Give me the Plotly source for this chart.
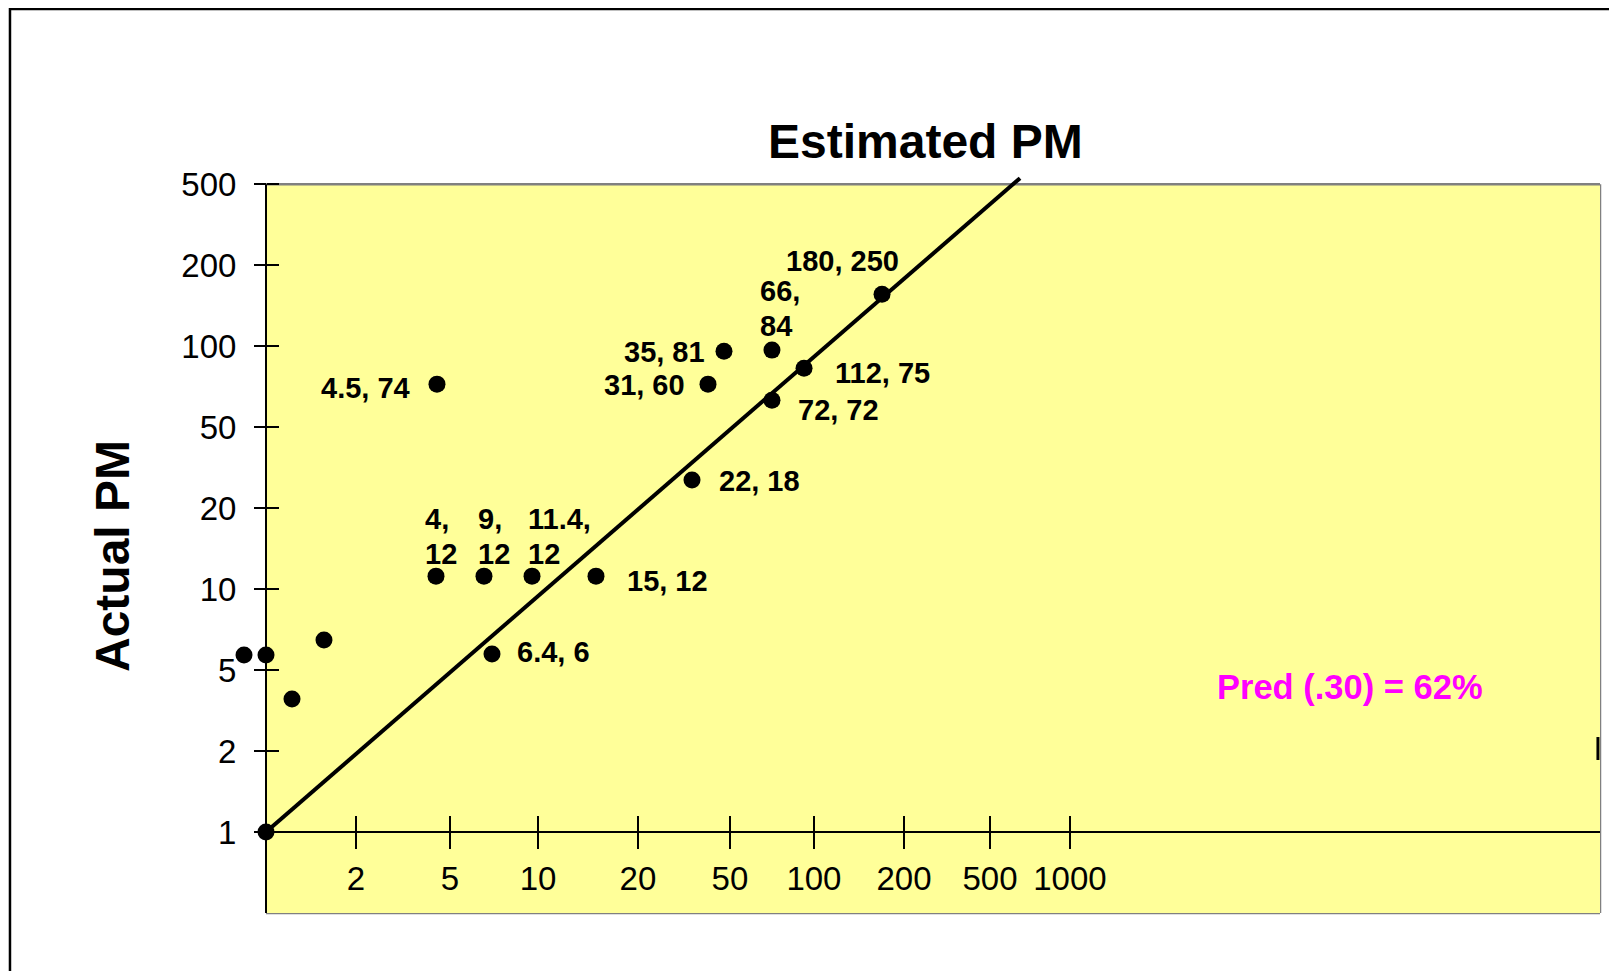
import plotly.graph_objects as go

# ---- data (positions on the chart's stepped 1-2-5 scales: 1 step per tick) ----
y_tick_text = ["1", "2", "5", "10", "20", "50", "100", "200", "500"]
y_tick_pos = [0, 1, 2, 3, 4, 5, 6, 7, 8]
x_tick_text = ["2", "5", "10", "20", "50", "100", "200", "500", "1000"]
x_tick_pos = [1.007, 2.06, 3.045, 4.164, 5.194, 6.134, 7.142, 8.105, 9.0]

est_pos = [0, -0.246, 0, 0.291, 0.649, 1.903, 2.440, 2.978, 3.694, 2.530,
           1.914, 4.769, 4.948, 5.127, 5.664, 5.664, 6.023, 6.896]
act_pos = [0, 2.185, 2.185, 1.642, 2.370, 3.160, 3.160, 3.160, 3.160, 2.198,
           5.531, 4.346, 5.531, 5.938, 5.951, 5.333, 5.728, 6.642]
point_labels = ["", "", "", "", "", "4,<br>12", "9,<br>12", "11.4,<br>12", "15, 12", "6.4, 6",
                "4.5, 74", "22, 18", "31, 60", "35, 81", "66,<br>84", "72, 72", "112, 75", "180, 250"]

line_est = [0, 8.441]
line_act = [0, 8.074]

# label placement (pixel offsets from each point, anchor)
label_style = [None, None, None, None, None,
               (-13, -40, "left"), (-8, -40, "left"), (-6, -40, "left"), (29, 5, "left"),
               (23, -2, "left"), (-25, 4, "right"), (25, 1, "left"), (-21, 1, "right"),
               (-17, 1, "right"), (-14, -42, "left"), (24, 10, "left"), (29, 5, "left"),
               (-40, -33, "center")]
LINE_GAP = 35

FONT = "Liberation Sans, Arial, sans-serif"
YELLOW = "#FFFF99"
GRAY = "#808080"

PX_PER_X = 89.33
X_RANGE = [-36 / PX_PER_X, 1334 / PX_PER_X]
Y_RANGE = [-1, 8.2]
x_axis_pos = (0 - Y_RANGE[0]) / (Y_RANGE[1] - Y_RANGE[0])
y_axis_pos = (0 - X_RANGE[0]) / (X_RANGE[1] - X_RANGE[0])

fig = go.Figure()

fig.add_trace(go.Scatter(x=line_est, y=line_act, mode="lines",
                         line=dict(color="black", width=4),
                         hoverinfo="skip", showlegend=False))
fig.add_trace(go.Scatter(x=est_pos, y=act_pos, mode="markers",
                         marker=dict(color="black", size=17),
                         showlegend=False, cliponaxis=False))
fig.add_trace(go.Scatter(x=[None], y=[None], xaxis="x2", yaxis="y2",
                         showlegend=False, hoverinfo="skip"))

annotations = []
for xv, yv, lab, st in zip(est_pos, act_pos, point_labels, label_style):
    if not lab:
        continue
    dx, dy, anc = st
    parts = lab.split("<br>")
    n = len(parts)
    for i, part in enumerate(parts):
        off = dy + (i - (n - 1) / 2) * LINE_GAP
        annotations.append(dict(x=xv, y=yv, xref="x", yref="y", text=part, showarrow=False,
                                xanchor=anc, yanchor="middle", align="left",
                                xshift=dx, yshift=-off,
                                font=dict(family=FONT, size=29, color="black", weight="bold")))

annotations.append(dict(x=7.388, y=1.0362, xref="x", yref="paper", text="Estimated PM",
                        showarrow=False, xanchor="center", yanchor="middle",
                        font=dict(family=FONT, size=48, color="black", weight="bold")))
annotations.append(dict(x=-0.0854, y=0.4792, xref="paper", yref="paper", text="Actual PM",
                        showarrow=False, xanchor="center", yanchor="middle", textangle=-90,
                        font=dict(family=FONT, size=48, color="black", weight="bold")))
annotations.append(dict(x=10.62, y=1.79, xref="x", yref="y", text="Pred (.30) = 62%",
                        showarrow=False, xanchor="left", yanchor="middle",
                        font=dict(family=FONT, size=34.5, color="#FF00FF", weight="bold")))

shapes = [
    # yellow plot area
    dict(type="rect", xref="x", yref="y", x0=0, x1=X_RANGE[1], y0=-1, y1=8,
         fillcolor=YELLOW, line=dict(width=0), layer="below"),
    # gray border: top, right, bottom
    dict(type="line", xref="x", yref="y", x0=0, x1=X_RANGE[1], y0=8, y1=8,
         line=dict(color=GRAY, width=2.5), layer="below"),
    dict(type="line", xref="paper", yref="y", x0=1, x1=1, y0=-1, y1=8,
         line=dict(color=GRAY, width=2.5), layer="below"),
    dict(type="line", xref="x", yref="paper", x0=0, x1=X_RANGE[1], y0=0, y1=0,
         line=dict(color=GRAY, width=2.5), layer="below"),
    # y axis line
    dict(type="line", xref="x", yref="y", x0=0, x1=0, y0=-1, y1=8,
         line=dict(color="black", width=2), layer="below"),
    # x axis line
    dict(type="line", xref="x", yref="y", x0=0, x1=X_RANGE[1], y0=0, y1=0,
         line=dict(color="black", width=2), layer="below"),
    # outer frame
    dict(type="rect", xref="paper", yref="paper", x0=-0.1606, x1=1.05, y0=-0.2, y1=1.2134,
         line=dict(color="black", width=2.5), fillcolor="rgba(0,0,0,0)"),
    # small mark on right edge
    dict(type="line", xref="paper", yref="paper", x0=0.9985, x1=0.9985, y0=0.2054, y1=0.2362,
         line=dict(color="black", width=3)),
]

tickfont = dict(family=FONT, size=33, color="black")

fig.update_layout(
    width=1609, height=963,
    margin=dict(l=222, r=17, t=160, b=58),
    paper_bgcolor="white", plot_bgcolor="rgba(0,0,0,0)",
    showlegend=False,
    annotations=annotations,
    shapes=shapes,
    xaxis=dict(range=X_RANGE, anchor="free", position=x_axis_pos,
               tickmode="array", tickvals=x_tick_pos, ticktext=x_tick_text,
               ticks="outside", ticklen=16, tickwidth=2, tickcolor="black",
               showline=False, showgrid=False, zeroline=False, tickfont=tickfont,
               ticklabelstandoff=1, fixedrange=True),
    xaxis2=dict(range=X_RANGE, overlaying="x", anchor="free", position=x_axis_pos,
                tickmode="array", tickvals=x_tick_pos, ticks="inside", ticklen=16,
                tickwidth=2, tickcolor="black", showticklabels=False,
                showline=False, showgrid=False, zeroline=False),
    yaxis=dict(range=Y_RANGE, anchor="free", position=y_axis_pos,
               tickmode="array", tickvals=y_tick_pos, ticktext=y_tick_text,
               ticks="outside", ticklen=12, tickwidth=2, tickcolor="black",
               showline=False, showgrid=False, zeroline=False, tickfont=tickfont,
               ticklabelstandoff=11, fixedrange=True),
    yaxis2=dict(range=Y_RANGE, overlaying="y", anchor="free", position=y_axis_pos, side="left",
                tickmode="array", tickvals=y_tick_pos, ticks="inside", ticklen=12,
                tickwidth=2, tickcolor="black", showticklabels=False,
                showline=False, showgrid=False, zeroline=False),
)

fig.write_html("out.html")
